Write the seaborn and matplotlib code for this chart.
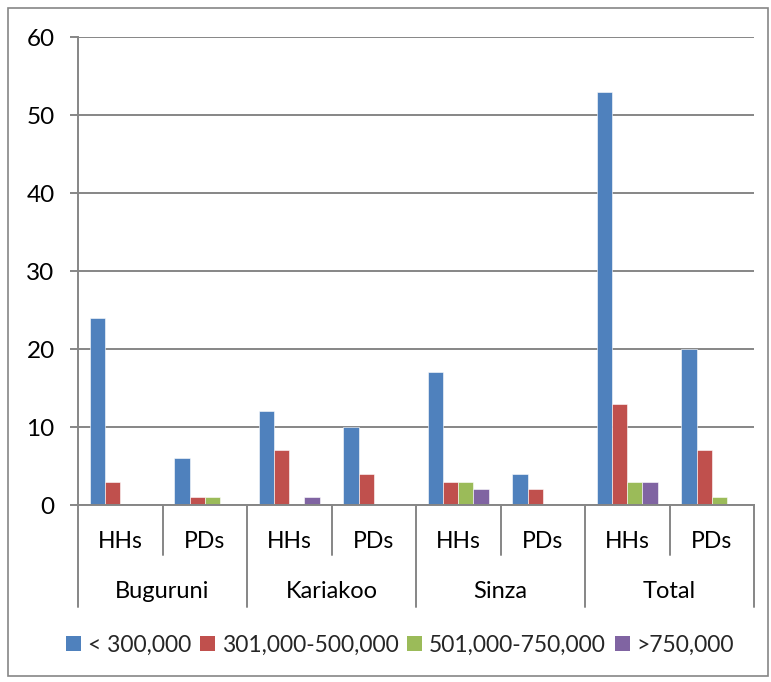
import matplotlib
matplotlib.use("Agg")
import matplotlib.pyplot as plt
import matplotlib.transforms as mtransforms
from matplotlib.lines import Line2D
from matplotlib.patches import Rectangle
import pandas as pd
import seaborn as sns

# Data
groups = ["Buguruni", "Kariakoo", "Sinza", "Total"]
subgroups = ["HHs", "PDs"]
series = ["< 300,000", "301,000-500,000", "501,000-750,000", ">750,000"]
below_300k = [24, 6, 12, 10, 17, 4, 53, 20]
from_301k_500k = [3, 1, 7, 4, 3, 2, 13, 7]
from_501k_750k = [0, 1, 0, 0, 3, 0, 3, 1]
above_750k = [0, 0, 1, 0, 2, 0, 3, 0]
yticks = [0, 10, 20, 30, 40, 50, 60]

colors = ["#4F81BD", "#C0504D", "#9BBB59", "#8064A2"]

slots = [f"{g} {s}" for g in groups for s in subgroups]
rows = []
for name, vals in zip(series, [below_300k, from_301k_500k, from_501k_750k, above_750k]):
    for slot, v in zip(slots, vals):
        rows.append({"slot": slot, "series": name, "value": v})
df = pd.DataFrame(rows)

sns.set_theme(style="white")
plt.rcParams["font.family"] = ["Lato", "DejaVu Sans"]
FS = 16.5

W, H = 771, 682
fig = plt.figure(figsize=(W / 100, H / 100), dpi=100)
fig.patch.set_facecolor("white")

def fx(px):
    return px / W

def fy(py):
    return 1 - py / H

left, right, top, bottom = 78, 754, 37, 505
ax = fig.add_axes([fx(left), fy(bottom), fx(right - left), fy(top) - fy(bottom)])

sns.barplot(data=df, x="slot", y="value", hue="series", order=slots,
            hue_order=series, palette=colors, width=0.72, saturation=1,
            edgecolor="white", linewidth=0.4, errorbar=None, ax=ax, legend=False)

grid_c = "#868686"
ax.set_xlim(-0.5, len(slots) - 0.5)
ax.set_ylim(0, 60)
ax.set_yticks(yticks)
ax.set_yticklabels([str(t) for t in yticks], fontsize=FS + 1, color="black")
ax.yaxis.grid(True, color=grid_c, linewidth=1.4)
ax.set_axisbelow(True)
ax.tick_params(axis="y", length=5.8, width=1.4, color=grid_c, direction="out",
               pad=11, left=True)
ax.set_xticks([])
ax.set_xlabel("")
ax.set_ylabel("")
for side in ["top", "right"]:
    ax.spines[side].set_visible(False)
for side in ["left", "bottom"]:
    ax.spines[side].set_color(grid_c)
    ax.spines[side].set_linewidth(1.4)

# Two-level category axis
trans = mtransforms.blended_transform_factory(ax.transData, fig.transFigure)
for i in range(len(slots) + 1):
    xb = i - 0.5
    y_end = 607 if i % 2 == 0 else 555
    ax.add_line(Line2D([xb, xb], [fy(bottom), fy(y_end)], transform=trans,
                       color=grid_c, linewidth=1.4, clip_on=False))
for i, slot in enumerate(slots):
    ax.text(i, fy(539.5), subgroups[i % 2], transform=trans, ha="center",
            va="center_baseline", fontsize=FS, color="black")
for j, g in enumerate(groups):
    ax.text(2 * j + 0.5, fy(590), g, transform=trans, ha="center",
            va="center_baseline", fontsize=FS + 0.5, color="black")

# Legend
handles = [Rectangle((0, 0), 1, 1, facecolor=c, edgecolor="none") for c in colors]
fig.legend(handles, series, loc="center", bbox_to_anchor=(fx(400), fy(645)),
           ncol=4, frameon=False, fontsize=FS, handlelength=0.66,
           handleheight=0.66, handletextpad=0.3, columnspacing=0.38,
           borderaxespad=0)

# Chart border
fig.add_artist(Rectangle((fx(8), fy(676)), fx(760), fy(8) - fy(676),
                         transform=fig.transFigure, fill=False,
                         edgecolor=grid_c, linewidth=1.2))

fig.savefig("out.png", dpi=100)
